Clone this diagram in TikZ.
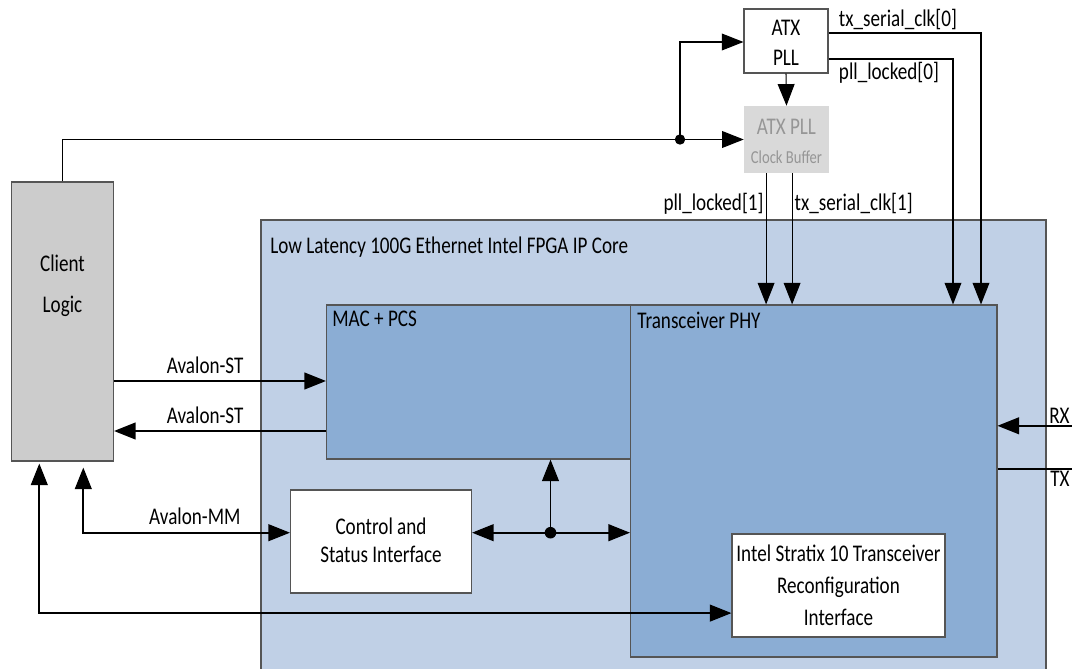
\documentclass[tikz,border=0pt]{standalone}
\usepackage{fontspec}
\setmainfont{Carlito}[FakeStretch=0.8]
\usepackage{xcolor}
\usetikzlibrary{arrows.meta,positioning,calc}
\definecolor{corefill}{RGB}{192,208,230}
\definecolor{blockfill}{RGB}{139,173,212}
\definecolor{clientfill}{RGB}{204,204,204}
\definecolor{buffill}{RGB}{217,217,217}
\definecolor{buftext}{RGB}{150,150,150}
\definecolor{edge}{RGB}{85,85,85}

\tikzset{
  box/.style={draw=edge, line width=0.8pt, inner sep=0pt},
  sig/.style={line width=0.75pt, -{Triangle[length=5.4mm,width=4.2mm]}},
  bus/.style={line width=1.3pt, -{Triangle[length=5.4mm,width=4.2mm]}},
  lbl/.style={font=\fontsize{17}{19}\selectfont, inner sep=1.5pt},
  txt/.style={font=\fontsize{17}{19}\selectfont, align=center}
}

\begin{document}
\begin{tikzpicture}[x=0.25mm, y=-0.25mm]
            \path[use as bounding box, clip] (0,0) rectangle (1072,669);
            % blocks
            \node[box, fill=corefill, minimum width=196.25mm, minimum height=120mm] (core) at (653.5,460) {};
            \node[box, fill=blockfill, minimum width=76mm, minimum height=38.5mm] (mac) at (478.5,382) {};
            \node[box, fill=blockfill, minimum width=91.6mm, minimum height=88mm] (phy) at (813.75,481) {};
            \node[box, fill=white, minimum width=45.25mm, minimum height=25.75mm] (csi) at (381,541.5) {};
            \node[box, fill=white, minimum width=53.25mm, minimum height=25.75mm] (reconf) at (838.5,585.5) {};
            \node[box, fill=clientfill, minimum width=25.5mm, minimum height=69.75mm] (client) at (62.5,321.5) {};
            \node[box, fill=white, minimum width=21mm, minimum height=16mm] (atx) at (786,41) {};
            \node[fill=buffill, inner sep=0pt, minimum width=21.25mm, minimum height=16.75mm] (buf) at (786.5,139.5) {};
            % block texts
            \node[lbl, anchor=west] (coretxt) at (268,247) {Low Latency 100G Ethernet Intel FPGA IP Core};
            \node[lbl, anchor=west] (mactxt) at (330,319) {MAC + PCS};
            \node[lbl, anchor=west] (phytxt) at (635,320) {Transceiver PHY};
            \node[txt] (clienttxt) at (62.5,286) {Client\\[3.6mm]Logic};
            \node[txt] (atxtxt) at (786,43) {ATX\\[0.8mm]PLL};
            \node[txt, text=buftext] (buftxt) at (786.5,141) {ATX PLL\\[0.6mm]{\fontsize{13}{15}\selectfont Clock Buffer}};
            \node[txt] (csitxt) at (381,540) {Control and\\[0.3mm]Status Interface};
            \node[txt] (reconftxt) at (838.5,585) {Intel Stratix 10 Transceiver\\[1.3mm]Reconfiguration\\[1.3mm]Interface};
            % clock path
            \coordinate (split) at (680,0 |- buf.west);
            \draw[sig] (client.north) |- (buf.west);
            \draw[sig] (split) |- ([yshift=-0.25mm]atx.west);
            \fill (split) circle (1.3mm);
            \draw[sig] (atx.south) -- (buf.north);
            \draw[sig] ([yshift=2mm]atx.east) -| (981,0 |- phy.north);
            \draw[sig] ([yshift=-4.5mm]atx.east) -| (953,0 |- phy.north);
            \node[lbl, anchor=south west] (txclk0) at ([xshift=2mm,yshift=2.3mm]atx.east) {tx\_serial\_clk[0]};
            \node[lbl, anchor=north west] (plllock0) at ([xshift=2mm,yshift=-4.8mm]atx.east) {pll\_locked[0]};
            \draw[sig] ([xshift=-5.1mm]buf.south) -- node[lbl, pos=0.23, left] {pll\_locked[1]} ([xshift=-5.1mm]buf.south |- phy.north);
            \draw[sig] ([xshift=1.4mm]buf.south) -- node[lbl, pos=0.23, right] {tx\_serial\_clk[1]} ([xshift=1.4mm]buf.south |- phy.north);
            % client interfaces
            \draw[bus] ([yshift=0.25mm]mac.west -| client.east) -- node[lbl, above=1.2mm, pos=0.43] {Avalon-ST} ([yshift=0.25mm]mac.west);
            \draw[bus] ([yshift=-12.25mm]mac.west) -- node[lbl, above=1.2mm, pos=0.57] {Avalon-ST} ([yshift=-12.25mm]mac.west -| client.east);
            \coordinate (csiport) at ([yshift=2.2mm]csi.west);
            \draw[bus, {Triangle[length=5.4mm,width=4.2mm]}-{Triangle[length=5.4mm,width=4.2mm]}, shorten <=1.5mm] ([xshift=5.2mm]client.south) |- node[lbl, above=1.2mm, pos=0.77] {Avalon-MM} (csiport);
            \draw[bus, {Triangle[length=5.4mm,width=4.2mm]}-{Triangle[length=5.4mm,width=4.2mm]}, shorten <=0.5mm] ([xshift=-5.8mm]client.south) |- ([yshift=-6.9mm]reconf.west);
            % status bus
            \coordinate (csiout) at ([yshift=2.2mm]csi.east);
            \coordinate (jn) at (550.5,0 |- csiout);
            \draw[bus, {Triangle[length=5.4mm,width=4.2mm]}-{Triangle[length=5.4mm,width=4.2mm]}] (csiout) -- (csiout -| phy.west);
            \draw[bus] (jn) -- (jn |- mac.south);
            \fill (jn) circle (1.45mm);
            % serial lines
            \coordinate (rxin) at ([yshift=13.8mm]phy.east);
            \coordinate (txout) at ([yshift=3mm]phy.east);
            \coordinate (rxend) at (1100,0 |- rxin);
            \coordinate (txend) at (1100,0 |- txout);
            \draw[bus] (rxend) -- (rxin);
            \draw[bus, -] (txout) -- (txend);
            \node[lbl, anchor=south east] (rxtxt) at (1072,0 |- rxin) {RX};
            \node[lbl, anchor=north east] (txtxt) at (1072,0 |- txout) {TX};
        \end{tikzpicture}
\end{document}
